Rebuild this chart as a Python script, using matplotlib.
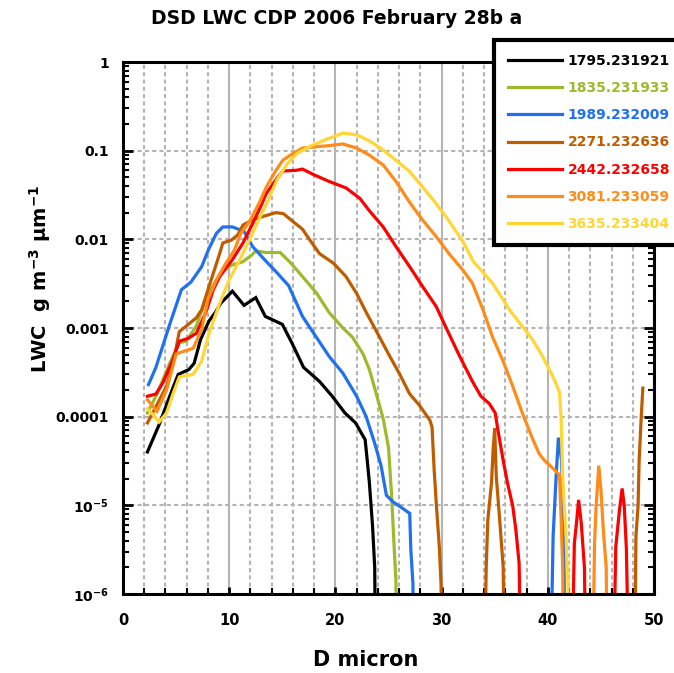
"""
DSD LWC CDP 2006 February 28b a
"""
import numpy as np
import matplotlib.pyplot as plt
from matplotlib.ticker import LogLocator, MultipleLocator, NullFormatter

plt.rcParams['font.family'] = 'DejaVu Sans'
plt.rcParams['mathtext.default'] = 'bf'

# values below the axis floor (1e-6) are written as 1e-8
d_1795 = [2.3, 3.4, 4.4, 5.2, 6.2, 6.7, 7.3, 8.1, 8.7, 9.2, 10.3, 11.4, 12.5, 13.4, 15.0,
          15.9, 17.0, 18.5, 19.7, 20.9, 21.9, 22.8, 23.0, 23.2, 23.5, 23.7, 23.9]
lwc_1795 = [4.0e-5, 8.1e-5, 1.7e-4, 3.0e-4, 3.4e-4, 4.0e-4, 7.4e-4, 1.2e-3, 1.5e-3, 1.9e-3,
            2.6e-3, 1.8e-3, 2.2e-3, 1.35e-3, 1.1e-3, 6.8e-4, 3.6e-4, 2.5e-4, 1.7e-4, 1.1e-4,
            8.5e-5, 5.5e-5, 3.2e-5, 1.8e-5, 5.8e-6, 2.0e-6, 1e-8]

d_1835 = [2.3, 3.2, 4.4, 5.3, 5.95, 6.9, 7.8, 8.6, 9.4, 10.2, 11.3, 12.1, 12.5, 13.5, 14.8,
          15.8, 16.9, 18.2, 19.4, 20.7, 21.6, 22.6, 23.2, 23.8, 24.5, 25.0, 25.3, 25.5, 25.7, 25.9]
lwc_1835 = [1.1e-4, 1.8e-4, 4.0e-4, 6.8e-4, 7.1e-4, 1.05e-3, 2.1e-3, 3.2e-3, 4.4e-3, 5.1e-3,
            5.6e-3, 6.6e-3, 7.4e-3, 7.1e-3, 7.1e-3, 5.4e-3, 3.8e-3, 2.5e-3, 1.5e-3, 1.0e-3,
            7.9e-4, 5.1e-4, 3.4e-4, 1.9e-4, 9.5e-5, 4.5e-5, 1.26e-5, 4.0e-6, 1.4e-6, 1e-8]

d_1989 = [2.4, 3.1, 4.4, 5.5, 6.4, 7.4, 8.1, 8.8, 9.4, 10.3, 11.4, 12.2, 13.5, 14.5, 15.6,
          16.9, 18.2, 19.4, 20.7, 22.0, 22.9, 23.7, 24.3, 24.8, 25.4, 26.3, 27.0, 27.1, 27.3,
          27.5, 40.1, 40.5, 40.8, 41.0, 41.3, 41.5, 41.7]
lwc_1989 = [2.3e-4, 3.6e-4, 1.1e-3, 2.7e-3, 3.3e-3, 4.9e-3, 7.9e-3, 1.17e-2, 1.38e-2, 1.38e-2,
            1.23e-2, 8.3e-3, 5.6e-3, 4.2e-3, 3.0e-3, 1.35e-3, 7.9e-4, 4.8e-4, 3.1e-4, 1.7e-4,
            1.0e-4, 5.0e-5, 2.8e-5, 1.3e-5, 1.1e-5, 9.3e-6, 8.1e-6, 3.2e-6, 1.3e-6, 1e-8,
            1e-8, 4.5e-6, 2.3e-5, 5.8e-5, 3.2e-5, 5.0e-6, 1e-8]

d_2271 = [2.3, 3.1, 4.1, 4.85, 5.3, 5.95, 6.9, 7.4, 8.1, 8.6, 9.1, 9.4, 10.2, 10.8, 11.3,
          12.2, 13.5, 14.4, 15.1, 15.7, 16.9, 17.6, 18.5, 19.8, 21.0, 22.0, 22.9, 23.8, 25.0,
          26.0, 27.0, 27.9, 28.9, 29.1, 29.3, 29.5, 29.8, 29.95, 30.1, 33.9, 34.2, 34.35, 34.7,
          34.85, 35.0, 35.15, 35.45, 35.8, 36.0, 48.1, 48.3, 48.5, 48.6, 48.8, 48.95]
lwc_2271 = [8.5e-5, 1.3e-4, 2.2e-4, 4.8e-4, 9.1e-4, 1.05e-3, 1.3e-3, 1.6e-3, 2.95e-3, 4.5e-3,
            6.9e-3, 9.1e-3, 9.8e-3, 1.12e-2, 1.45e-2, 1.66e-2, 1.86e-2, 2.0e-2, 1.95e-2, 1.7e-2,
            1.3e-2, 9.8e-3, 6.9e-3, 5.4e-3, 3.8e-3, 2.45e-3, 1.5e-3, 9.5e-4, 5.1e-4, 3.1e-4,
            1.8e-4, 1.35e-4, 9.1e-5, 7.6e-5, 2.5e-5, 1.05e-5, 3.2e-6, 1.26e-6, 1e-8, 1e-8,
            2.0e-6, 6.8e-6, 1.8e-5, 4.2e-5, 7.4e-5, 2.1e-5, 7.4e-6, 2.0e-6, 1e-8, 1e-8,
            4.5e-6, 9.8e-6, 3.2e-5, 1.0e-4, 2.1e-4]

d_2442 = [2.3, 3.1, 3.75, 4.7, 5.3, 6.1, 6.9, 7.8, 8.5, 9.1, 10.3, 11.3, 12.2, 13.0, 13.5,
          14.4, 15.05, 16.3, 16.9, 17.9, 19.4, 21.0, 22.3, 23.2, 24.5, 25.7, 27.0, 28.2, 29.5,
          30.4, 31.7, 32.9, 33.7, 34.5, 35.05, 35.3, 35.8, 36.2, 36.7, 37.0, 37.3, 37.6, 42.1,
          42.5, 42.7, 42.9, 43.15, 43.45, 43.7, 46.0, 46.4, 46.75, 47.0, 47.2, 47.4, 47.8]
lwc_2442 = [1.7e-4, 1.8e-4, 2.4e-4, 4.4e-4, 7.1e-4, 7.6e-4, 8.7e-4, 1.5e-3, 2.7e-3, 3.8e-3,
            5.9e-3, 9.1e-3, 1.5e-2, 2.4e-2, 3.3e-2, 4.7e-2, 5.9e-2, 6.0e-2, 6.2e-2, 5.4e-2,
            4.5e-2, 3.8e-2, 2.9e-2, 2.1e-2, 1.38e-2, 8.3e-3, 4.9e-3, 2.95e-3, 1.74e-3, 1.02e-3,
            4.8e-4, 2.5e-4, 1.7e-4, 1.4e-4, 1.1e-4, 7.1e-5, 3.2e-5, 1.8e-5, 9.8e-6, 5.2e-6,
            2.2e-6, 1e-8, 1e-8, 3.7e-6, 6.3e-6, 1.15e-5, 6.3e-6, 2.0e-6, 1e-8, 1e-8, 3.4e-6,
            8.9e-6, 1.55e-5, 9.8e-6, 3.2e-6, 1e-8]

d_3081 = [2.3, 3.2, 4.1, 5.0, 5.6, 6.6, 7.4, 8.0, 8.8, 9.7, 10.5, 11.1, 11.9, 12.85, 13.5,
          14.4, 15.05, 16.0, 16.9, 18.2, 19.4, 20.7, 22.0, 23.2, 24.5, 25.7, 27.0, 28.2, 29.5,
          30.7, 32.0, 32.9, 33.9, 34.8, 35.8, 36.7, 37.6, 38.6, 39.2, 39.7, 40.5, 41.1, 41.25,
          41.4, 41.6, 44.1, 44.4, 44.55, 44.8, 45.0, 45.25, 45.5, 45.7]
lwc_3081 = [1.55e-4, 1.15e-4, 2.0e-4, 5.1e-4, 5.4e-4, 5.9e-4, 9.5e-4, 2.1e-3, 3.5e-3, 5.4e-3,
            7.6e-3, 1.17e-2, 1.58e-2, 2.6e-2, 3.9e-2, 6.0e-2, 7.8e-2, 9.3e-2, 0.107, 0.111,
            0.114, 0.119, 0.107, 8.9e-2, 6.9e-2, 4.5e-2, 2.6e-2, 1.66e-2, 1.07e-2, 6.9e-3,
            4.5e-3, 3.2e-3, 1.6e-3, 7.9e-4, 4.2e-4, 2.2e-4, 1.1e-4, 5.5e-5, 3.8e-5, 3.2e-5,
            2.6e-5, 2.2e-5, 7.4e-6, 2.0e-6, 1e-8, 1e-8, 3.7e-6, 9.8e-6, 2.8e-5, 1.5e-5, 4.8e-6,
            2.0e-6, 1e-8]

d_3635 = [2.3, 3.0, 3.4, 4.1, 4.7, 5.3, 6.6, 7.4, 8.1, 9.1, 10.0, 11.0, 11.9, 12.6, 13.5,
          14.5, 15.5, 16.4, 17.6, 19.0, 20.7, 22.0, 23.2, 24.5, 25.7, 27.0, 28.2, 29.3, 30.5,
          32.0, 33.0, 34.8, 36.4, 37.4, 38.5, 39.5, 40.5, 41.1, 41.25, 41.4, 41.7, 41.9, 42.1]
lwc_3635 = [1.23e-4, 1.0e-4, 8.7e-5, 1.1e-4, 1.8e-4, 2.8e-4, 3.0e-4, 4.2e-4, 8.7e-4, 1.9e-3,
            3.5e-3, 5.9e-3, 9.8e-3, 1.5e-2, 2.5e-2, 4.7e-2, 7.2e-2, 9.3e-2, 0.112, 0.132,
            0.158, 0.151, 0.129, 0.102, 7.8e-2, 5.8e-2, 3.9e-2, 2.7e-2, 1.74e-2, 9.5e-3,
            5.6e-3, 3.2e-3, 1.6e-3, 1.12e-3, 7.6e-4, 4.8e-4, 2.8e-4, 1.9e-4, 1.0e-4, 2.1e-5,
            4.8e-6, 1.3e-6, 1e-8]

labels = ['1795.231921', '1835.231933', '1989.232009', '2271.232636',
          '2442.232658', '3081.233059', '3635.233404']
colors = ['#000000', '#9bbb2c', '#2070f0', '#c05c00', '#ff0000', '#ff8c1a', '#ffd633']
series = [(d_1795, lwc_1795), (d_1835, lwc_1835), (d_1989, lwc_1989), (d_2271, lwc_2271),
          (d_2442, lwc_2442), (d_3081, lwc_3081), (d_3635, lwc_3635)]

yticks = [1e-6, 1e-5, 1e-4, 1e-3, 1e-2, 1e-1, 1]
yticklabels = ['$10^{-6}$', '$10^{-5}$', '0.0001', '0.001', '0.01', '0.1', '1']

fig = plt.figure(figsize=(6.74, 6.73), dpi=100)
ax = fig.add_axes([123 / 674, 79 / 673, 531 / 674, 532 / 673])

for (d, lwc), lab, col in zip(series, labels, colors):
    ax.plot(d, lwc, color=col, lw=2.3, label=lab, solid_joinstyle='miter')

ax.set_yscale('log')
ax.set_ylim(1e-6, 1)
ax.set_xlim(0, 50)
ax.set_yticks(yticks)
ax.set_yticklabels(yticklabels)
ax.yaxis.set_minor_locator(LogLocator(base=10, subs=np.arange(2, 10)))
ax.yaxis.set_minor_formatter(NullFormatter())
ax.xaxis.set_major_locator(MultipleLocator(10))
ax.xaxis.set_minor_locator(MultipleLocator(2))

ax.set_axisbelow(True)
grey = '#b4b4b4'
ax.grid(which='major', axis='x', color=grey, ls='-', lw=1.5)
ax.grid(which='minor', axis='x', color=grey, ls=(0, (2, 1.5)), lw=1.5)
ax.grid(which='major', axis='y', color=grey, ls=(0, (2, 1.5)), lw=1.5)

ax.tick_params(axis='y', which='major', direction='in', left=True, right=True,
               length=7, width=2, pad=10, labelsize=10)
ax.tick_params(axis='y', which='minor', direction='in', left=True, right=True,
               length=4.5, width=1.5)
ax.tick_params(axis='x', which='major', direction='in', length=5, width=2,
               pad=14, labelsize=10.5)
ax.tick_params(axis='x', which='minor', direction='in', length=4, width=1.5)
for t in ax.get_xticklabels() + ax.get_yticklabels():
    t.set_fontweight('bold')
for s in ax.spines.values():
    s.set_linewidth(2.2)

fig.text(0.5, 1 - 18 / 673, 'DSD LWC CDP 2006 February 28b a',
         ha='center', va='center', fontsize=13.5, fontweight='bold')
fig.text(366 / 674, 1 - 660 / 673, 'D micron',
         ha='center', va='center', fontsize=15, fontweight='bold')
fig.text(40 / 674, 1 - 279 / 673, 'LWC  g m$^{-3}$ $\\mu$m$^{-1}$', rotation=90,
         ha='center', va='center', fontsize=14, fontweight='bold')

leg = ax.legend(loc='upper left', bbox_to_anchor=(494 / 674, 1 - 40 / 673),
                bbox_transform=fig.transFigure, fancybox=False, framealpha=1,
                edgecolor='black', borderaxespad=0, labelcolor='linecolor',
                prop=dict(weight='bold', size=10), handlelength=3.9,
                handletextpad=0.4, labelspacing=0.95, borderpad=1.0)
leg.get_frame().set_linewidth(3)

fig.savefig('out.png', dpi=100)
